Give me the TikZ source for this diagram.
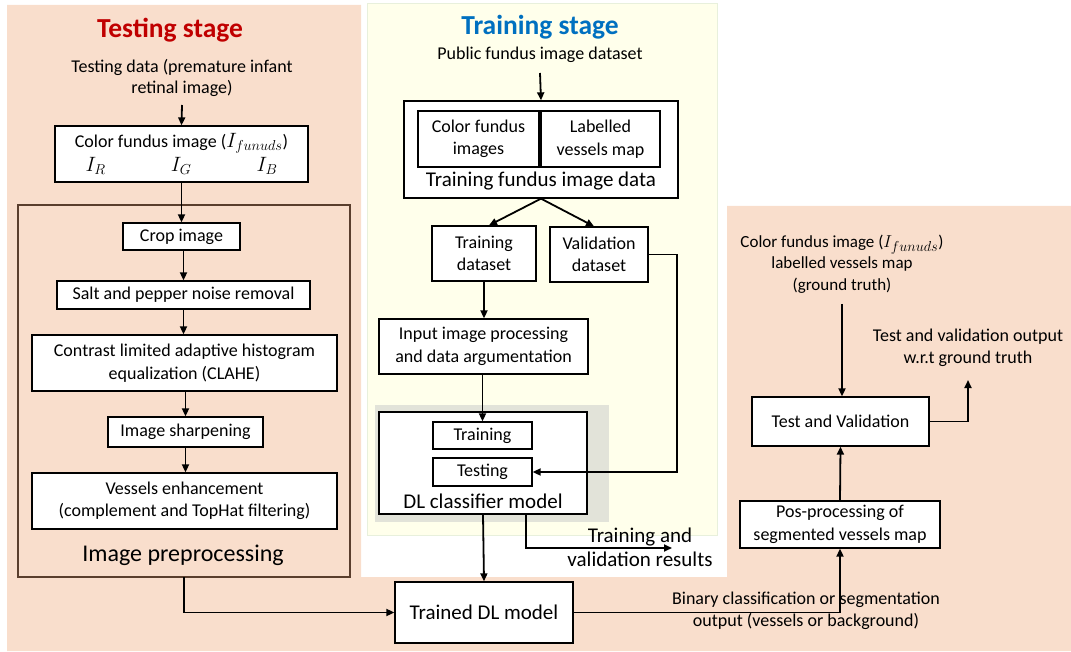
\documentclass[tikz,border=0pt]{standalone}
\usepackage{fontspec}
\setmainfont{Carlito}
\usetikzlibrary{arrows.meta,positioning,calc}

\definecolor{peach}{RGB}{249,222,204}
\definecolor{paleyellow}{RGB}{255,255,235}
\definecolor{paleedge}{RGB}{232,240,220}
\definecolor{greyzone}{RGB}{226,227,217}
\definecolor{brownedge}{RGB}{90,62,45}
\definecolor{titlered}{RGB}{192,0,0}
\definecolor{titleblue}{RGB}{0,112,192}

\newcommand{\fsz}[2]{\fontsize{#1}{#2}\selectfont}

\tikzset{
  box/.style={draw, fill=white, line width=1.3pt, align=center, inner sep=1pt, font=\fsz{18}{22.5}},
  plain/.style={align=center, inner sep=1pt, font=\fsz{18}{21.5}},
  arr/.style={line width=1.8pt, -{Triangle[length=8pt,width=7pt]}},
  title/.style={font=\fsz{27.5}{30}\bfseries, inner sep=0pt},
  biglabel/.style={font=\fsz{21}{25}, inner sep=0pt},
}

\begin{document}
\begin{tikzpicture}[x=1pt, y=-1pt]
\useasboundingbox (0,0) rectangle (1071,652);

% backgrounds
\fill[peach] (7,5) -- (361,5) -- (361,577) -- (727,577) -- (727,206)
  -- (1071,206) -- (1071,651) -- (7,651) -- cycle;
\filldraw[fill=paleyellow, draw=paleedge, line width=1pt] (367,4) rectangle (717,535);
\fill[greyzone] (375,405) rectangle (609,522);

% testing stage
\node[title, text=titlered] (ttest) at (170,30) {Testing stage};
\node[plain] (tdata) at (182,78) {Testing data (premature infant\\retinal image)};
\node[box, minimum width=253pt, minimum height=56pt] (cfi) at (181.5,154)
  {Color fundus image ({\fsz{20}{22}$I_{funuds}$})\\[1pt]\makebox[192pt]{\fsz{20}{22}$I_R$\hfill$I_G$\hfill$I_B$}};
\draw[brownedge, line width=1.2pt] (18,205) rectangle (350,577);
\coordinate (preproc) at (184,577);
\node[biglabel, font=\fsz{24}{28}] (pplabel) at (183,555) {Image preprocessing};
\node[box, minimum width=117pt, minimum height=27pt] (crop) at (181.5,236.5) {Crop image};
\node[box, minimum width=253pt, minimum height=28pt] (salt) at (183.5,295) {Salt and pepper noise removal};
\node[box, minimum width=305pt, minimum height=56pt] (clahe) at (184.5,363)
  {Contrast limited adaptive histogram\\equalization (CLAHE)};
\node[box, minimum width=155pt, minimum height=30pt] (sharp) at (185.5,432) {Image sharpening};
\node[box, minimum width=305pt, minimum height=56pt] (vessel) at (184.5,501)
  {Vessels enhancement\\(complement and TopHat filtering)};

\draw[arr] (182,105) -- (cfi.north);
\draw[arr] (cfi.south) -- (crop.north -| cfi.south);
\draw[arr] (crop.south -| salt.north) -- (salt.north);
\draw[arr] (salt.south) -- (clahe.north -| salt.south);
\draw[arr] (clahe.south -| sharp.north) -- (sharp.north);
\draw[arr] (sharp.south) -- (vessel.north -| sharp.south);

% training stage
\node[title, text=titleblue] (ttrain) at (540,27) {Training stage};
\node[plain] (pubdata) at (540,55) {Public fundus image dataset};
\node[box, minimum width=274pt, minimum height=97pt] (tfid) at (541,149.5) {};
\node[box, minimum width=121pt, minimum height=56pt] (cfimg) at (478.5,139) {Color fundus\\images};
\node[box, minimum width=119pt, minimum height=56pt] (lvm) at (600.5,139) {Labelled\\vessels map};
\node[biglabel] (tfidlabel) at (541,181) {Training fundus image data};
\node[box, minimum width=104pt, minimum height=55pt] (trds) at (484,253.5) {Training\\dataset};
\node[box, minimum width=98pt, minimum height=55pt] (valds) at (599,254.5) {Validation\\dataset};
\node[box, minimum width=209pt, minimum height=55pt] (input) at (483.5,346.5)
  {Input image processing\\and data argumentation};
\node[box, minimum width=208pt, minimum height=102pt] (dlc) at (483,463) {};
\node[box, minimum width=99pt, minimum height=27pt] (training) at (482.5,435.5) {Training};
\node[box, minimum width=99pt, minimum height=28pt] (testing) at (482.5,472) {Testing};
\node[biglabel] (dlclabel) at (483,501) {DL classifier model};
\node[biglabel, align=center, font=\fsz{21}{24}] (trres) at (640,547) {Training and\\validation results};
\coordinate (trresend) at (672,548);

\draw[arr] (540,73) -- (tfid.north);
\draw[arr] (tfid.south) -- ([xshift=5pt]trds.north);
\draw[arr] (tfid.south) -- ([xshift=-5pt]valds.north);
\draw[arr] (trds.south) -- (input.north -| trds.south);
\draw[arr] (input.south -| training.north) -- (training.north);
\draw[arr] (valds.east) -- ++(28,0) |- (testing.east);
\draw[arr] ([xshift=43pt]dlc.south) |- (trresend);

% final model and evaluation
\node[box, font=\fsz{21}{25}, minimum width=178pt, minimum height=61pt] (trained) at (484,612.5) {Trained DL model};
\node[plain, font=\fsz{17}{21.5}] (gtlabel) at (842,264)
  {Color fundus image ({\fsz{19}{21}$I_{funuds}$})\\labelled vessels map\\(ground truth)};
\node[box, minimum width=177pt, minimum height=49pt] (tv) at (840.5,421.5) {Test and Validation};
\node[box, minimum width=200pt, minimum height=47pt] (pos) at (840,524.5)
  {Pos-processing of\\segmented vessels map};
\node[plain] (tvout) at (968,348) {Test and validation output\\w.r.t ground truth};
\coordinate (tvend) at (968,380);
\node[plain] (bincl) at (806,611) {Binary classification or segmentation\\output (vessels or background)};

\draw[arr] (dlc.south) -- (trained.north);
\draw[arr] (preproc) |- (trained.west);
\draw[arr] (trained.east) -| (pos.south);
\draw[arr] (pos.north) -- (tv.south);
\draw[arr] (842,304) -- (tv.north -| 842,0);
\draw[arr] (tv.east) -| (tvend);
\end{tikzpicture}
\end{document}
